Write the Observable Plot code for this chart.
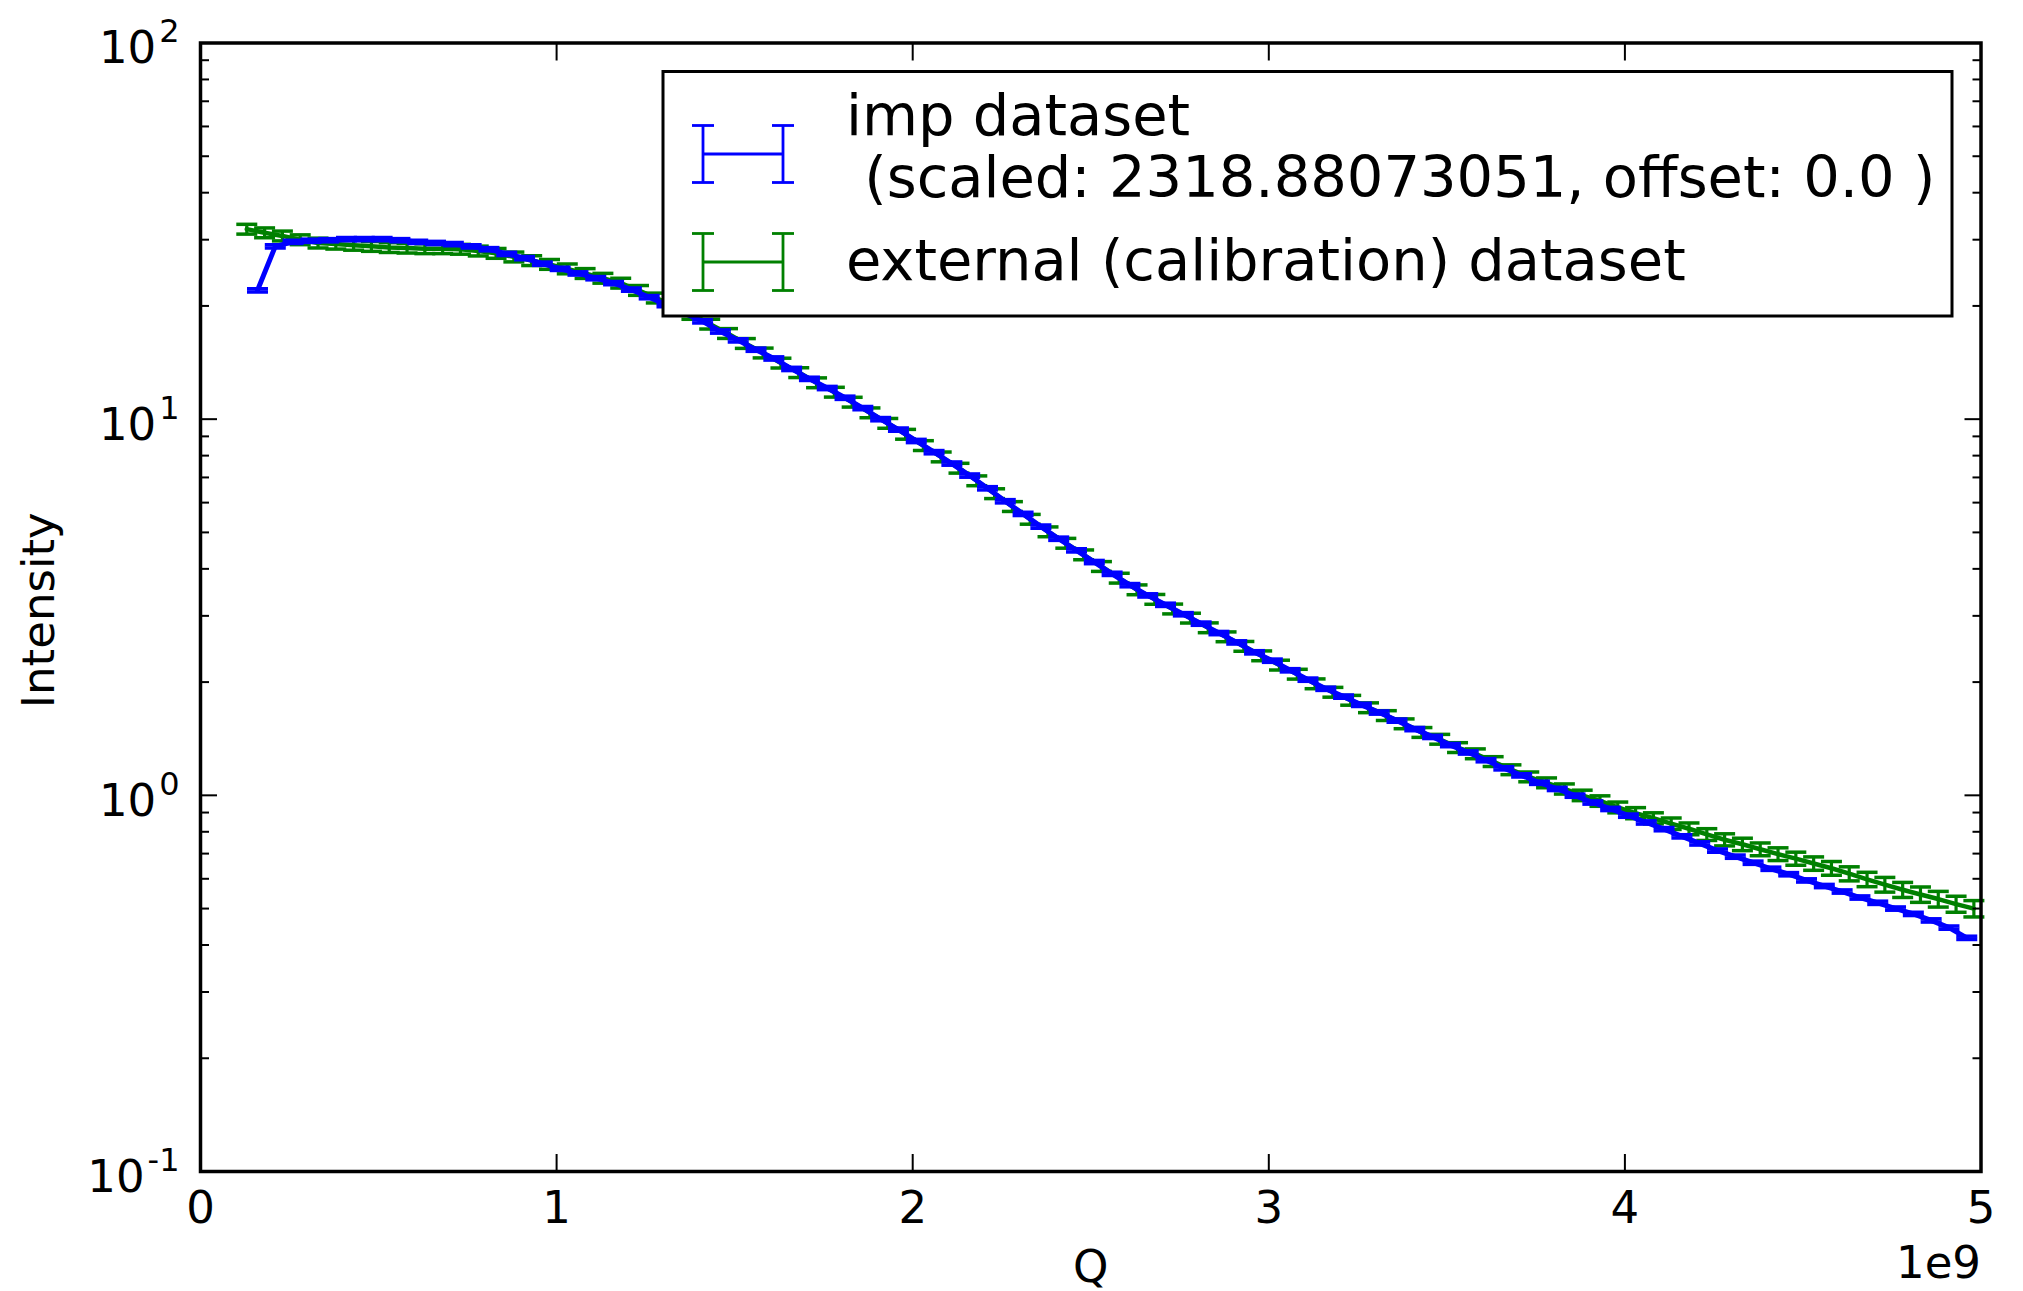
<!DOCTYPE html>
<html>
<head>
<meta charset="utf-8">
<script src="https://cdn.jsdelivr.net/npm/d3@7"></script>
<script src="https://cdn.jsdelivr.net/npm/@observablehq/plot@0.6"></script>
<style>
  html, body { margin: 0; padding: 0; background: #ffffff; }
  #chart { width: 2023px; height: 1291px; overflow: hidden; }
</style>
</head>
<body>
<div id="chart"></div>
<script>
// ---- Data (Q in units of 1e9) ----
const qImp = [0.16, 0.21, 0.26, 0.31, 0.36, 0.41, 0.46, 0.51, 0.56, 0.61, 0.66, 0.71, 0.76, 0.81, 0.86, 0.91, 0.96,
  1.01, 1.06, 1.11, 1.16, 1.21, 1.26, 1.31, 1.36, 1.41, 1.46, 1.51, 1.56, 1.61, 1.66, 1.71, 1.76, 1.81, 1.86, 1.91, 1.96,
  2.01, 2.06, 2.11, 2.16, 2.21, 2.26, 2.31, 2.36, 2.41, 2.46, 2.51, 2.56, 2.61, 2.66, 2.71, 2.76, 2.81, 2.86, 2.91, 2.96,
  3.01, 3.06, 3.11, 3.16, 3.21, 3.26, 3.31, 3.36, 3.41, 3.46, 3.51, 3.56, 3.61, 3.66, 3.71, 3.76, 3.81, 3.86, 3.91, 3.96,
  4.01, 4.06, 4.11, 4.16, 4.21, 4.26, 4.31, 4.36, 4.41, 4.46, 4.51, 4.56, 4.61, 4.66, 4.71, 4.76, 4.81, 4.86, 4.91, 4.96];
const iImp = [22.0, 28.8, 29.6, 29.8, 29.9, 30.1, 30.1, 30.1, 29.9, 29.6, 29.4, 29.2, 28.8, 28.3, 27.5, 26.8, 25.9,
  25.1, 24.4, 23.7, 23.0, 22.1, 21.1, 20.1, 19.1, 18.2, 17.1, 16.2, 15.3, 14.5, 13.6, 12.8, 12.1, 11.4, 10.7, 10.0, 9.38,
  8.75, 8.17, 7.62, 7.08, 6.55, 6.05, 5.60, 5.18, 4.81, 4.48, 4.17, 3.88, 3.62, 3.40, 3.21, 3.03, 2.86, 2.70, 2.55, 2.40,
  2.28, 2.15, 2.03, 1.92, 1.83, 1.74, 1.66, 1.58, 1.50, 1.43, 1.36, 1.30, 1.24, 1.18, 1.13, 1.08, 1.04, 0.998, 0.957, 0.920,
  0.883, 0.847, 0.813, 0.778, 0.745, 0.713, 0.687, 0.662, 0.638, 0.617, 0.594, 0.574, 0.555, 0.535, 0.518, 0.500, 0.484, 0.465, 0.445, 0.418];

const qExt = [0.13, 0.18, 0.23, 0.28, 0.33, 0.38, 0.43, 0.48, 0.53, 0.58, 0.63, 0.68, 0.73, 0.78, 0.83, 0.88, 0.93, 0.98,
  1.03, 1.08, 1.13, 1.18, 1.23, 1.28, 1.33, 1.38, 1.43, 1.48, 1.53, 1.58, 1.63, 1.68, 1.73, 1.78, 1.83, 1.88, 1.93, 1.98,
  2.03, 2.08, 2.13, 2.18, 2.23, 2.28, 2.33, 2.38, 2.43, 2.48, 2.53, 2.58, 2.63, 2.68, 2.73, 2.78, 2.83, 2.88, 2.93, 2.98,
  3.03, 3.08, 3.13, 3.18, 3.23, 3.28, 3.33, 3.38, 3.43, 3.48, 3.53, 3.58, 3.63, 3.68, 3.73, 3.78, 3.83, 3.88, 3.93, 3.98,
  4.03, 4.08, 4.13, 4.18, 4.23, 4.28, 4.33, 4.38, 4.43, 4.48, 4.53, 4.58, 4.63, 4.68, 4.73, 4.78, 4.83, 4.88, 4.93, 4.98];
const iExt = [32.0, 31.3, 30.7, 30.0, 29.4, 29.2, 29.0, 28.8, 28.6, 28.5, 28.4, 28.4, 28.3, 28.0, 27.6, 27.0, 26.4, 25.8,
  25.1, 24.4, 23.7, 23.0, 22.0, 21.0, 20.0, 19.0, 17.9, 16.9, 15.9, 15.0, 14.1, 13.3, 12.5, 11.8, 11.1, 10.4, 9.75, 9.12,
  8.51, 7.94, 7.41, 6.86, 6.34, 5.86, 5.42, 5.02, 4.68, 4.36, 4.06, 3.78, 3.52, 3.32, 3.13, 2.96, 2.79, 2.64, 2.49, 2.35,
  2.22, 2.10, 1.98, 1.88, 1.79, 1.71, 1.63, 1.55, 1.47, 1.41, 1.34, 1.29, 1.23, 1.17, 1.12, 1.08, 1.04, 1.00, 0.966, 0.929,
  0.897, 0.869, 0.841, 0.815, 0.787, 0.762, 0.741, 0.719, 0.698, 0.679, 0.659, 0.640, 0.619, 0.598, 0.579, 0.561, 0.545, 0.530, 0.514, 0.500];
// relative half-height of the external error bars (they widen towards high Q)
const extRelErr = [0.03, 0.03, 0.03, 0.03, 0.03, 0.03, 0.03, 0.03, 0.03, 0.03, 0.03, 0.03, 0.03, 0.03, 0.03, 0.03, 0.03, 0.03,
  0.03, 0.03, 0.03, 0.03, 0.03, 0.03, 0.03, 0.03, 0.03, 0.03, 0.03, 0.03, 0.03, 0.03, 0.03, 0.03, 0.03, 0.03, 0.03, 0.03,
  0.03, 0.03, 0.03, 0.03, 0.03, 0.03, 0.03, 0.03, 0.03, 0.03, 0.03, 0.03, 0.03, 0.03, 0.03, 0.03, 0.03, 0.03, 0.03, 0.03,
  0.03, 0.03, 0.03, 0.03, 0.03, 0.03, 0.03, 0.03, 0.03, 0.03, 0.03, 0.03, 0.03, 0.03, 0.03, 0.03, 0.031, 0.032, 0.032, 0.033,
  0.034, 0.034, 0.035, 0.036, 0.036, 0.037, 0.038, 0.039, 0.039, 0.040, 0.041, 0.042, 0.043, 0.044, 0.045, 0.046, 0.047, 0.048, 0.049, 0.050];
// the imp dataset error bars are barely wider than its line
const impRelErr = 0.01;

const seriesNames = ["imp dataset\n (scaled: 2318.88073051, offset: 0.0 )", "external (calibration) dataset"];
const seriesColors = ["#0000ff", "#008000"];

const xTicks = [0, 1, 2, 3, 4, 5];
const xTickLabels = ["0", "1", "2", "3", "4", "5"];
const xOffsetLabel = "1e9";
const xLabel = "Q";
const yLabel = "Intensity";
const yTicks = [0.1, 1, 10, 100];
const yTickExponents = ["-1", "0", "1", "2"];
const yMinorTicks = [0.2, 0.3, 0.4, 0.5, 0.6, 0.7, 0.8, 0.9, 2, 3, 4, 5, 6, 7, 8, 9, 20, 30, 40, 50, 60, 70, 80, 90];

// ---- Build tables ----
const imp = qImp.map((q, i) => ({q, v: iImp[i], e: impRelErr}));
const ext = qExt.map((q, i) => ({q, v: iExt[i], e: extRelErr[i]}));

const xLabelMap = new Map(xTicks.map((t, i) => [t, xTickLabels[i]]));
const yLabelMap = new Map(yTicks.map((t, i) => [t, yTickExponents[i]]));

const capSymbol = {
  draw(ctx, size) {
    const r = Math.sqrt(size / Math.PI);
    ctx.moveTo(-r, 0);
    ctx.lineTo(r, 0);
  }
};

function errorSeries(data, color, lineWidth) {
  return [
    Plot.line(data, {x: "q", y: "v", stroke: color, strokeWidth: lineWidth, strokeLinejoin: "round"}),
    Plot.ruleX(data, {x: "q", y1: d => d.v * (1 - d.e), y2: d => d.v * (1 + d.e), stroke: color, strokeWidth: 3.2}),
    Plot.dot(data, {x: "q", y: d => d.v * (1 - d.e), symbol: capSymbol, r: 10.5, fill: "none", stroke: color, strokeWidth: 3.5}),
    Plot.dot(data, {x: "q", y: d => d.v * (1 + d.e), symbol: capSymbol, r: 10.5, fill: "none", stroke: color, strokeWidth: 3.5})
  ];
}

const FONT = "DejaVu Sans";

const svg = Plot.plot({
  width: 2023,
  height: 1291,
  marginLeft: 200,
  marginRight: 42.5,
  marginTop: 42.5,
  marginBottom: 120,
  style: {fontFamily: FONT, fontSize: "45px", background: "#ffffff", color: "#000000"},
  x: {type: "linear", domain: [0, 5]},
  y: {type: "log", domain: [0.1, 100]},
  marks: [
    ...errorSeries(ext, seriesColors[1], 4.5),
    ...errorSeries(imp, seriesColors[0], 5),
    // tick labels
    Plot.axisX({anchor: "bottom", ticks: xTicks, tickSize: 0, tickPadding: 20, fontSize: 45,
      tickFormat: d => xLabelMap.get(d), label: null}),
    Plot.axisY({anchor: "left", ticks: yTicks, tickSize: 0, tickPadding: 21, dy: 6, fontSize: 45,
      tickFormat: d => "10^" + yLabelMap.get(d), label: null}),
    // inward ticks on all four sides
    Plot.axisX({anchor: "bottom", ticks: xTicks, tickSize: 17, dy: -17, fill: "none", strokeWidth: 2}),
    Plot.axisX({anchor: "top", ticks: xTicks, tickSize: 17, dy: 17, fill: "none", strokeWidth: 2}),
    Plot.axisY({anchor: "left", ticks: yTicks, tickSize: 17, dx: 17, fill: "none", strokeWidth: 2}),
    Plot.axisY({anchor: "right", ticks: yTicks, tickSize: 17, dx: -17, fill: "none", strokeWidth: 2}),
    Plot.axisY({anchor: "left", ticks: yMinorTicks, tickSize: 9, dx: 9, fill: "none", strokeWidth: 2}),
    Plot.axisY({anchor: "right", ticks: yMinorTicks, tickSize: 9, dx: -9, fill: "none", strokeWidth: 2}),
    Plot.frame({stroke: "#000000", strokeWidth: 3.5}),
    // axis titles
    Plot.text([yLabel], {frameAnchor: "left", rotate: -90, dx: -147, dy: 3, lineAnchor: "bottom",
      textAnchor: "middle", fontSize: 45, fill: "#000000"}),
    Plot.text([xLabel], {frameAnchor: "bottom", dy: 110, lineAnchor: "bottom", textAnchor: "middle",
      fontSize: 45, fill: "#000000"}),
    Plot.text([xOffsetLabel], {frameAnchor: "bottom-right", dy: 106, lineAnchor: "bottom", textAnchor: "end",
      fontSize: 45, fill: "#000000"})
  ]
});

// superscript exponents on log tick labels
d3.select(svg).selectAll('g[aria-label="y-axis tick label"] text').each(function () {
  const parts = this.textContent.split("^");
  if (parts.length !== 2) return;
  this.textContent = parts[0];
  d3.select(this).append("tspan").attr("dx", 3).attr("dy", -21).attr("font-size", 32).text(parts[1]);
});

// legend (matplotlib style box with error-bar handles)
const lg = d3.select(svg).append("g").attr("aria-label", "legend")
  .attr("font-family", FONT).attr("font-size", 57.5).attr("text-anchor", "start");
lg.append("rect").attr("x", 663).attr("y", 71.5).attr("width", 1289).attr("height", 244.5)
  .attr("fill", "#ffffff").attr("stroke", "#000000").attr("stroke-width", 3);

const legendRows = [
  {name: seriesNames[0], color: seriesColors[0], cy: 154, baselines: [135, 197]},
  {name: seriesNames[1], color: seriesColors[1], cy: 262, baselines: [280]}
];
for (const row of legendRows) {
  const x0 = 703, x1 = 783, h = 28.5, cw = 11;
  const s = lg.append("g").attr("stroke", row.color).attr("stroke-width", 2.8).attr("fill", "none");
  s.append("line").attr("x1", x0).attr("x2", x1).attr("y1", row.cy).attr("y2", row.cy);
  for (const x of [x0, x1]) {
    s.append("line").attr("x1", x).attr("x2", x).attr("y1", row.cy - h).attr("y2", row.cy + h);
    s.append("line").attr("x1", x - cw).attr("x2", x + cw).attr("y1", row.cy - h).attr("y2", row.cy - h);
    s.append("line").attr("x1", x - cw).attr("x2", x + cw).attr("y1", row.cy + h).attr("y2", row.cy + h);
  }
  const lines = row.name.split("\n");
  lines.forEach((t, k) => {
    lg.append("text").attr("x", 846).attr("y", row.baselines[k]).attr("text-anchor", "start")
      .style("white-space", "pre").attr("fill", "#000000").text(t);
  });
}

document.getElementById("chart").appendChild(svg);
</script>
</body>
</html>
